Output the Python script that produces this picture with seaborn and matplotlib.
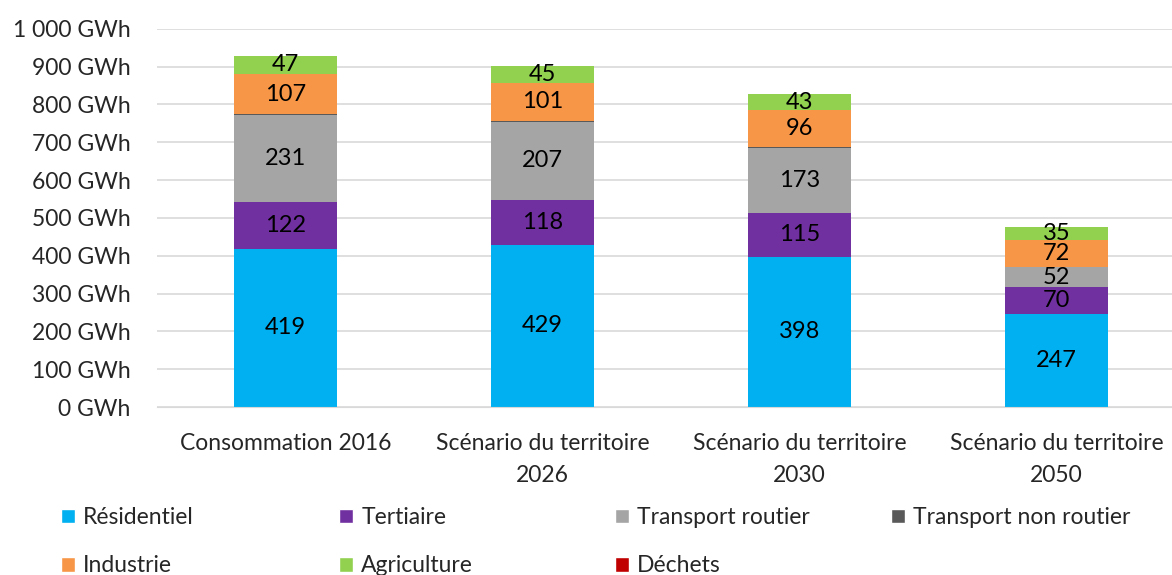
import numpy as np
import pandas as pd
import seaborn as sns
import matplotlib.pyplot as plt
from matplotlib.patches import Patch

# Data
categories = ["Consommation 2016", "Scénario du territoire\n2026",
              "Scénario du territoire\n2030", "Scénario du territoire\n2050"]
sectors = ["Résidentiel", "Tertiaire", "Transport routier", "Transport non routier",
           "Industrie", "Agriculture", "Déchets"]
residentiel = [419, 429, 398, 247]
tertiaire = [122, 118, 115, 70]
transport_routier = [231, 207, 173, 52]
transport_non_routier = [2, 2, 2, 0]
industrie = [107, 101, 96, 72]
agriculture = [47, 45, 43, 35]
dechets = [0, 0, 0, 0]
colors = ["#00B0F0", "#7030A0", "#A5A5A5", "#595959", "#F79646", "#92D050", "#C00000"]
show_labels = [True, True, True, False, True, True, False]

sns.set_style("white")
plt.rcParams["font.family"] = ["Lato", "DejaVu Sans"]

series = [residentiel, tertiaire, transport_routier, transport_non_routier,
          industrie, agriculture, dechets]
df = pd.DataFrame(dict(zip(sectors, series)), index=categories)
cum = df.cumsum(axis=1)

fig = plt.figure(figsize=(11.72, 5.75), dpi=100)
ax = fig.add_axes([0.134, 0.292, 0.877, 0.658])

# draw cumulative bars from the top down so lower segments sit in front
for i in reversed(range(len(sectors))):
    sns.barplot(x=categories, y=cum[sectors[i]].values, color=colors[i],
                width=0.4, saturation=1, linewidth=0, ax=ax, zorder=2)

# segment labels
for i, s in enumerate(sectors):
    if not show_labels[i]:
        continue
    for j, c in enumerate(categories):
        v = df.loc[c, s]
        mid = cum.loc[c, s] - v / 2
        ax.text(j, mid, f"{v}", ha="center", va="center", fontsize=17, color="black")

ax.set_ylim(0, 1000)
ax.set_yticks(np.arange(0, 1001, 100))
ax.set_yticklabels([f"{v:,} GWh".replace(",", " ") for v in range(0, 1001, 100)], fontsize=16.5)
ax.set_xlim(-0.5, 3.5)
ax.tick_params(axis="x", labelsize=16.5, length=0, pad=19)
for t in ax.get_xticklabels():
    t.set_linespacing(1.6)
ax.tick_params(axis="y", length=0, pad=19)
ax.yaxis.grid(True, color="#D9D9D9", linewidth=1.2, zorder=0)
ax.set_axisbelow(True)
for sp in ["top", "right", "left"]:
    ax.spines[sp].set_visible(False)
ax.spines["bottom"].set_color("#D9D9D9")

# legend: one column legend per column, rows filled left to right
col_x = [61, 339, 615, 891]
for k, x in enumerate(col_x):
    idx = [k, k + 4] if k + 4 < len(sectors) else [k]
    handles = [Patch(facecolor=colors[i]) for i in idx]
    labels = [sectors[i] for i in idx]
    fig.legend(handles, labels, loc="upper left", bbox_to_anchor=(x / 1172, 1 - 507 / 575),
               frameon=False, fontsize=16.5, handlelength=0.62, handleheight=0.62,
               handletextpad=0.35, labelspacing=1.2, borderpad=0, borderaxespad=0)

fig.savefig("out.png", dpi=100)
